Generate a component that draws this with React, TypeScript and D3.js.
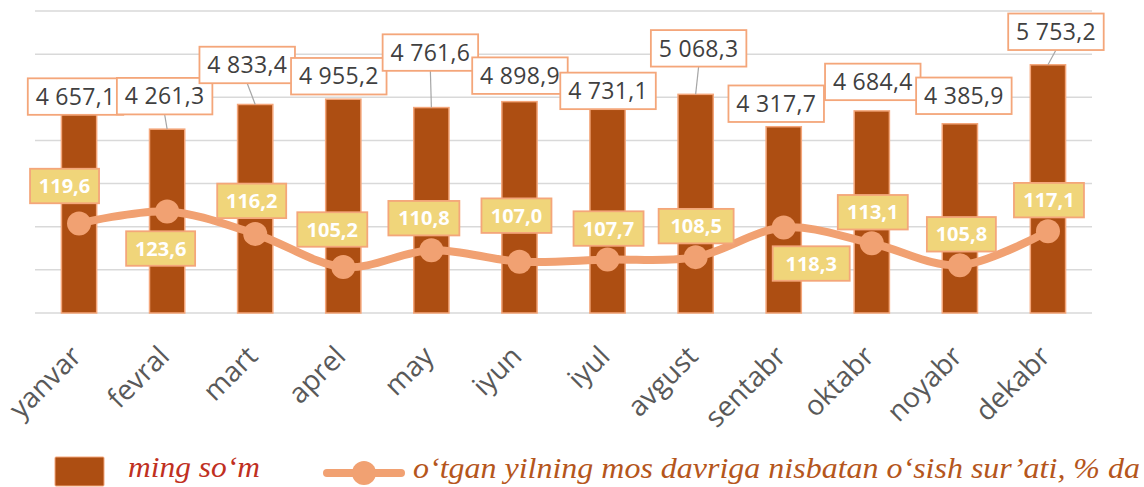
import React from "react";
import * as d3 from "d3";

// ---------- data ----------
const categories = ["yanvar", "fevral", "mart", "aprel", "may", "iyun", "iyul", "avgust", "sentabr", "oktabr", "noyabr", "dekabr"];
const amounts = [4657.1, 4261.3, 4833.4, 4955.2, 4761.6, 4898.9, 4731.1, 5068.3, 4317.7, 4684.4, 4385.9, 5753.2];
const growth = [119.6, 123.6, 116.2, 105.2, 110.8, 107.0, 107.7, 108.5, 118.3, 113.1, 105.8, 117.1];
const gridTicks = [0, 1000, 2000, 3000, 4000, 5000, 6000, 7000];
const legendBar = "ming so‘m";
const legendLine = "o‘tgan yilning mos davriga nisbatan o‘sish sur’ati, % da";

// ---------- layout (label offsets, relative to mark positions) ----------
const barLabelOffsets: [number, number][] = [
  [-3.5, -15.5], [-2.5, -33], [-8, -39.5], [-4.5, -23], [-1, -55], [0.5, -26],
  [0.5, -18], [3, -46], [-7.5, -23], [1, -29], [4, -28], [8, -33],
];
const lineLabelOffsets: [number, number][] = [
  [-14.5, -37.6], [-6.5, 37], [-3.5, -33], [-11, -37.6], [-7.5, -32], [-3, -46],
  [1, -31], [0.5, -31], [27.5, 36], [1, -31], [1.5, -31], [1, -31],
];
const lineLabelWidths = [69, 69, 69, 70, 71, 70, 70, 75, 77, 70, 69, 70];

const W = 1144;
const H = 487;
const PL = 35, PR = 1092, PT = 11, PB = 313;

const BAR_FILL = "#AD4E12";
const BAR_STROKE = "#F4A67A";
const LINE_COLOR = "#F1A172";
const YELLOW = "#F0D57A";

const fmt = (v: number) => {
  const [i, d] = v.toFixed(1).split(".");
  return i.replace(/\B(?=(\d{3})+(?!\d))/g, " ") + "," + d;
};

export default function App() {
  const x = d3.scaleBand<string>().domain(categories).range([PL, PR]).paddingInner(0.6).paddingOuter(0.3);
  const y = d3.scaleLinear().domain([0, 7000]).range([PB, PT]);
  const y2 = d3.scaleLinear().domain([90, 190]).range([PB, PT]);
  const cx = (c: string) => (x(c) as number) + x.bandwidth() / 2;

  const pts: [number, number][] = categories.map((c, i) => [cx(c), y2(growth[i])]);
  const lineGen = d3.line().curve(d3.curveCardinal.tension(0));
  const path = lineGen(pts) || "";

  return (
    <svg width={W} height={H} style={{ position: "absolute", left: 0, top: 0, background: "#fff" }}
      fontFamily="'Open Sans', sans-serif">
      {/* gridlines */}
      {gridTicks.map((t) => (
        <line key={t} x1={PL} x2={PR} y1={y(t)} y2={y(t)} stroke="#D9D9D9" strokeWidth={1.5} />
      ))}
      {/* bars */}
      {categories.map((c, i) => (
        <rect key={c} x={x(c)} y={y(amounts[i])} width={x.bandwidth()} height={PB - y(amounts[i])}
          fill={BAR_FILL} stroke={BAR_STROKE} strokeWidth={1.5} />
      ))}
      {/* bar labels */}
      {categories.map((c, i) => {
        const bx = cx(c) + barLabelOffsets[i][0];
        const top = y(amounts[i]);
        const by = top + barLabelOffsets[i][1];
        const bw = 95.5, bh = 36.5;
        const gap = top - (by + bh / 2);
        return (
          <g key={c}>
            {gap > 13 && (
              <line x1={bx} y1={by + bh / 2} x2={cx(c)} y2={top} stroke="#A6A6A6" strokeWidth={1.2} />
            )}
            <rect x={bx - bw / 2} y={by - bh / 2} width={bw} height={bh} fill="#fff" stroke={BAR_STROKE} strokeWidth={1.8} />
            <text x={bx} y={by} dy="0.36em" textAnchor="middle" fontSize={23} fill="#404040" letterSpacing={0.3}>
              {fmt(amounts[i])}
            </text>
          </g>
        );
      })}
      {/* line */}
      <path d={path} fill="none" stroke={LINE_COLOR} strokeWidth={8} strokeLinecap="round" />
      {pts.map((p, i) => (
        <circle key={i} cx={p[0]} cy={p[1]} r={12} fill={LINE_COLOR} />
      ))}
      {/* line labels */}
      {categories.map((c, i) => {
        const lx = pts[i][0] + lineLabelOffsets[i][0];
        const ly = pts[i][1] + lineLabelOffsets[i][1];
        const lw = lineLabelWidths[i], lh = 34.5;
        return (
          <g key={c}>
            <rect x={lx - lw / 2} y={ly - lh / 2} width={lw} height={lh} fill={YELLOW} stroke={BAR_STROKE} strokeWidth={1.8} />
            <text x={lx} y={ly} dy="0.36em" textAnchor="middle" fontSize={20} fontWeight={700} fill="#fff">
              {fmt(growth[i])}
            </text>
          </g>
        );
      })}
      {/* x axis labels */}
      {categories.map((c) => (
        <text key={c} transform={`translate(${cx(c) + 4},${358}) rotate(-45)`} textAnchor="end"
          fontSize={28} fill="#595959">
          {c}
        </text>
      ))}
      {/* legend */}
      <rect x={55} y={457} width={49} height={29} fill={BAR_FILL} stroke={BAR_STROKE} strokeWidth={1} rx={1} />
      <text x={128} y={477} fontFamily="'Liberation Serif', serif" fontStyle="italic" fontSize={29}
        fill="#C0301F" textLength={132} lengthAdjust="spacingAndGlyphs">
        {legendBar}
      </text>
      <line x1={327} x2={401} y1={473} y2={473} stroke={LINE_COLOR} strokeWidth={8} strokeLinecap="round" />
      <circle cx={364} cy={473} r={12} fill={LINE_COLOR} />
      <text x={413} y={478} fontFamily="'Liberation Serif', serif" fontStyle="italic" fontSize={29}
        fill="#B5561C" textLength={727} lengthAdjust="spacingAndGlyphs">
        {legendLine}
      </text>
    </svg>
  );
}
